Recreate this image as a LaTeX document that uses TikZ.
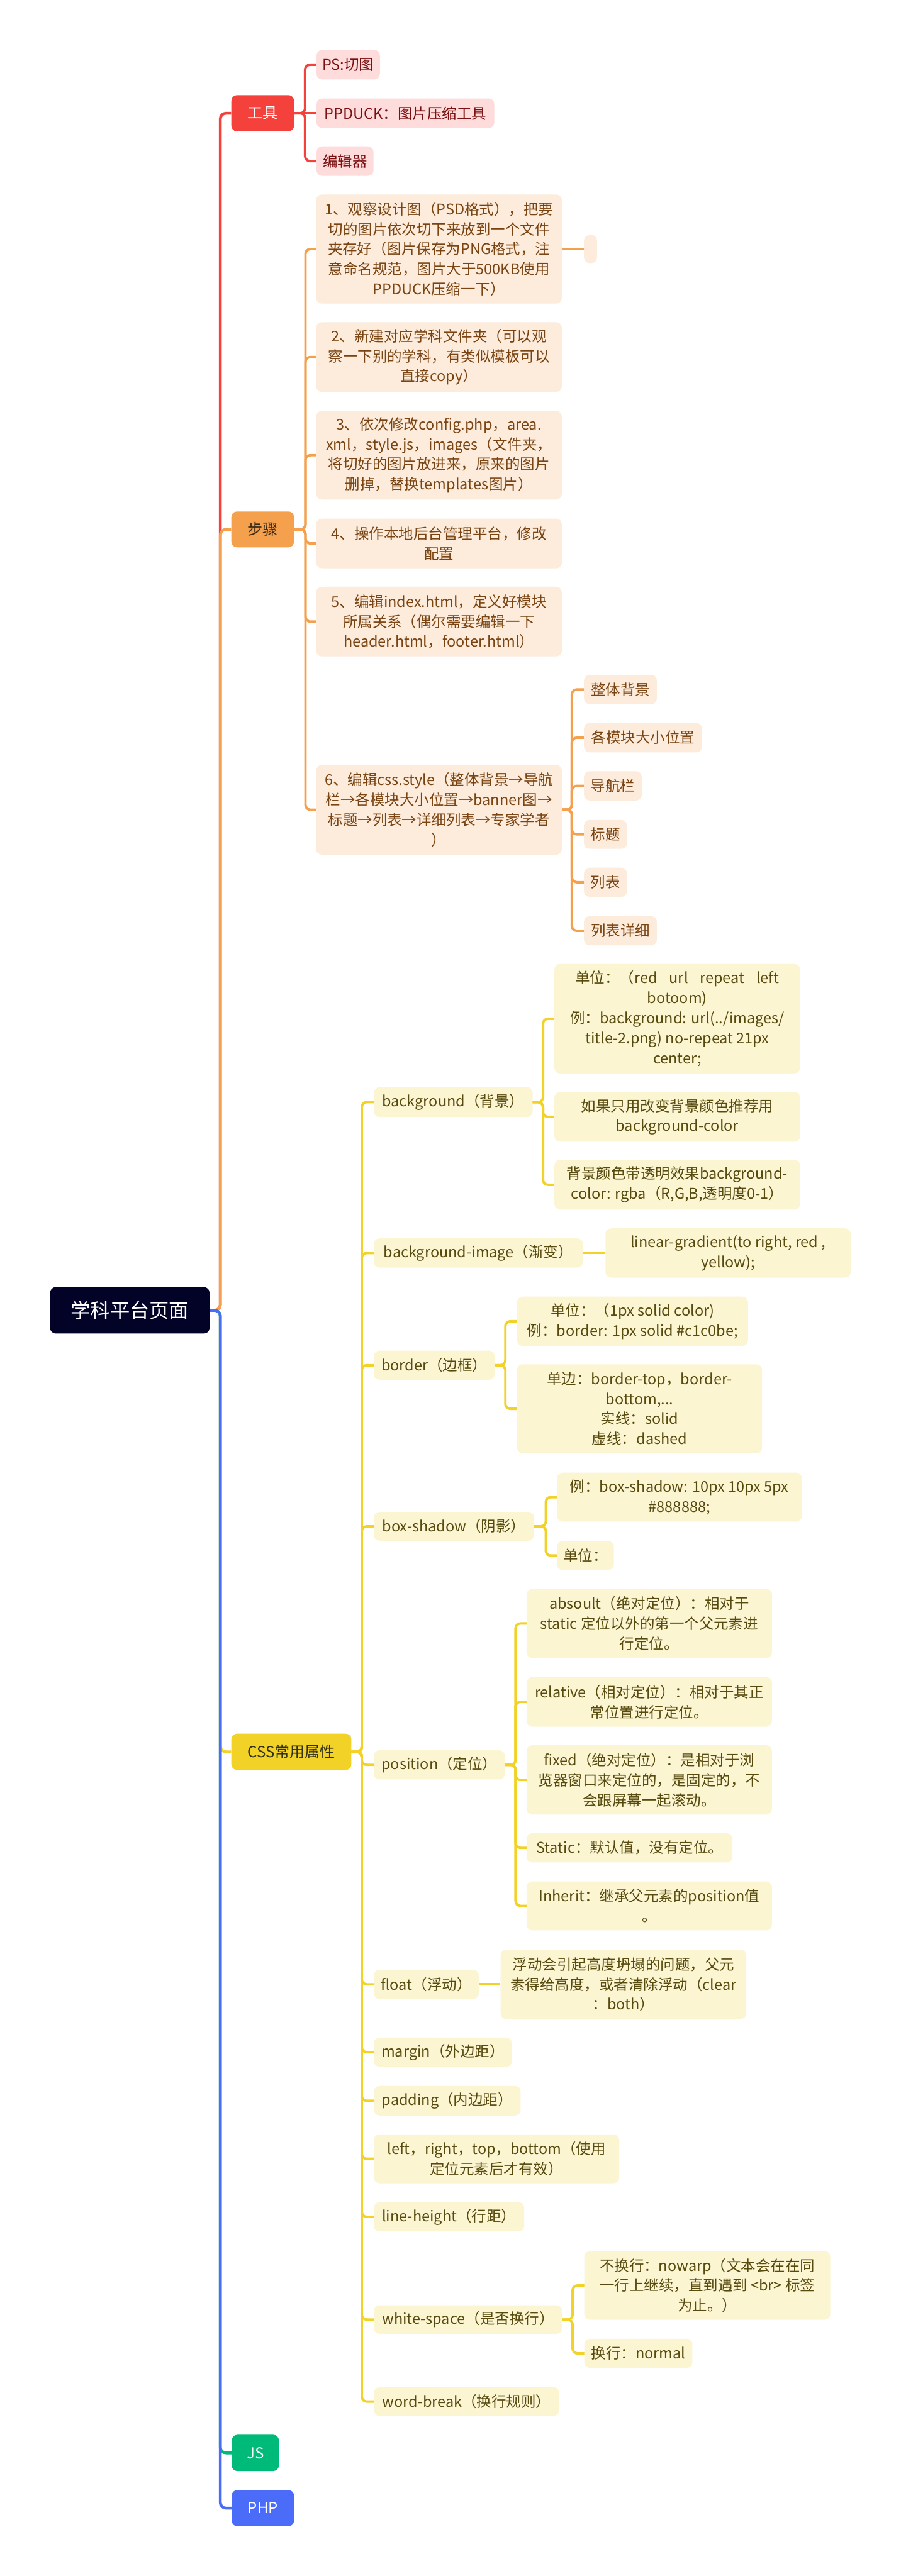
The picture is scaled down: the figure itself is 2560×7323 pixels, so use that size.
\documentclass[tikz,border=0pt]{standalone}
\usepackage{fontspec}
\setmainfont{Noto Sans CJK SC}
\definecolor{rootc}{HTML}{020327}
\definecolor{redc}{HTML}{F5413B}
\definecolor{redbg}{HTML}{FDDCDB}
\definecolor{redtx}{HTML}{7C0F0F}
\definecolor{orc}{HTML}{F5A04C}
\definecolor{orbg}{HTML}{FDECDC}
\definecolor{ortx}{HTML}{7A4412}
\definecolor{ordk}{HTML}{3A2A14}
\definecolor{yec}{HTML}{F2D227}
\definecolor{yebg}{HTML}{FCF5D2}
\definecolor{yetx}{HTML}{574A0E}
\definecolor{yedk}{HTML}{33301A}
\definecolor{grc}{HTML}{00BA79}
\definecolor{blc}{HTML}{4A6CF8}
\newcommand\link[4]{\draw[#1] (#2.east) -- (#2.east -| #4) -- (#3.west -| #4) -- (#3.west);}
\begin{document}
\begin{tikzpicture}[x=0.5pt,y=-0.5pt,
  bw/.style={minimum width=#1*0.5pt},
  bh/.style={minimum height=#1*0.5pt},
  box/.style={rounded corners=8pt, inner sep=0pt, anchor=west, align=center,
    font=\fontsize{21pt}{28.5pt}\selectfont},
  rootbox/.style={box, fill=rootc, text=white, font=\fontsize{28pt}{34pt}\selectfont},
  lone/.style={box, font=\fontsize{21.5pt}{28pt}\selectfont},
  l1red/.style={lone, fill=redc, text=white},
  l1or/.style={lone, fill=orc, text=ordk},
  l1ye/.style={lone, fill=yec, text=yedk},
  l1gr/.style={lone, fill=grc, text=white},
  l1bl/.style={lone, fill=blc, text=white},
  sred/.style={box, fill=redbg, text=redtx},
  sor/.style={box, fill=orbg, text=ortx},
  sye/.style={box, fill=yebg, text=yetx},
  trunk/.style={line width=4pt, rounded corners=8pt},
  cred/.style={line width=3.5pt, rounded corners=7pt, draw=redc},
  cor/.style={line width=3.5pt, rounded corners=7pt, draw=orc},
  cye/.style={line width=3.5pt, rounded corners=7pt, draw=yec},
]
\fill[white] (0,0) rectangle (2560,7323);
\useasboundingbox (0,0) rectangle (2560,7323);

% vertical line x positions
\coordinate (vr) at (626,0);
\coordinate (vt) at (867,0);
\coordinate (vs) at (868,0);
\coordinate (vs6) at (1625,0);
\coordinate (vc) at (1028,0);
\coordinate (vbg) at (1543,0);
\coordinate (vbd) at (1436,0);
\coordinate (vbs) at (1551,0);
\coordinate (vpo) at (1465,0);
\coordinate (vws) at (1627,0);

% root and first level
\node[rootbox, bw=453, bh=132] (root) at (142,3725) {学科平台页面};
\node[l1red, bw=178, bh=103] (tools) at (657,322) {工具};
\node[l1or, bw=178, bh=102] (steps) at (657,1505) {步骤};
\node[l1ye, bw=341, bh=103] (css) at (657,4980) {CSS常用属性};
\node[l1gr, bw=134, bh=103] (js) at (658,6973) {JS};
\node[l1bl, bw=177, bh=103] (php) at (658,7130) {PHP};

% tools
\node[sred, bw=180, bh=84] (ps) at (899,184) {PS:切图};
\node[sred, bw=505, bh=84] (ppduck) at (899,322) {PPDUCK：图片压缩工具};
\node[sred, bw=162, bh=84] (editor) at (899,458) {编辑器};

% steps
\node[sor, bw=698, bh=310] (s1) at (898,708) {1、观察设计图（PSD格式），把要\\切的图片依次切下来放到一个文件\\夹存好（图片保存为PNG格式，注\\意命名规范，图片大于500KB使用\\PPDUCK压缩一下）};
\node[sor, bw=37, bh=80] (s1x) at (1659,708) {};
\node[sor, bw=698, bh=198] (s2) at (898,1015) {2、新建对应学科文件夹（可以观\\察一下别的学科，有类似模板可以\\直接copy）};
\node[sor, bw=698, bh=252] (s3) at (898,1294) {3、依次修改config.php，area.\\xml，style.js，images（文件夹，\\将切好的图片放进来，原来的图片\\删掉，替换templates图片）};
\node[sor, bw=698, bh=141] (s4) at (898,1545) {4、操作本地后台管理平台，修改\\配置};
\node[sor, bw=698, bh=198] (s5) at (898,1767) {5、编辑index.html，定义好模块\\所属关系（偶尔需要编辑一下\\header.html，footer.html）};
\node[sor, bw=698, bh=255] (s6) at (898,2302) {6、编辑css.style（整体背景→导航\\栏→各模块大小位置→banner图→\\标题→列表→详细列表→专家学者\\）};
\node[sor, bw=207, bh=83] (t1) at (1659,1960) {整体背景};
\node[sor, bw=335, bh=84] (t2) at (1659,2097) {各模块大小位置};
\node[sor, bw=164, bh=83] (t3) at (1659,2234) {导航栏};
\node[sor, bw=122, bh=82] (t4) at (1659,2372) {标题};
\node[sor, bw=122, bh=83] (t5) at (1659,2508) {列表};
\node[sor, bw=207, bh=83] (t6) at (1659,2646) {列表详细};

% css level 2
\node[sye, bw=451, bh=85] (bg) at (1062,3133) {background（背景）};
\node[sye, bw=594, bh=83] (bgi) at (1062,3562) {background-image（渐变）};
\node[sye, bw=343, bh=83] (bd) at (1062,3881) {border（边框）};
\node[sye, bw=455, bh=82] (bs) at (1062,4339) {box-shadow（阴影）};
\node[sye, bw=372, bh=83] (po) at (1062,5017) {position（定位）};
\node[sye, bw=298, bh=83] (fl) at (1062,5641) {float（浮动）};
\node[sye, bw=392, bh=83] (ma) at (1062,5834) {margin（外边距）};
\node[sye, bw=417, bh=84] (pa) at (1062,5972) {padding（内边距）};
\node[sye, bw=697, bh=139] (lr) at (1062,6137) {left，right，top，bottom（使用\\定位元素后才有效）};
\node[sye, bw=427, bh=83] (lh) at (1062,6302) {line-height（行距）};
\node[sye, bw=535, bh=81] (ws) at (1062,6594) {white-space（是否换行）};
\node[sye, bw=526, bh=82] (wb) at (1062,6827) {word-break（换行规则）};

% css level 3
\node[sye, bw=698, bh=311] (bg1) at (1575,2896) {单位：（red\hspace{0.8em}url\hspace{0.8em}repeat\hspace{0.8em}left\\botoom)\\例：background: url(../images/\\title-2.png) no-repeat 21px\\center;};
\node[sye, bw=698, bh=141] (bg2) at (1575,3175) {如果只用改变背景颜色推荐用\\background-color};
\node[sye, bw=698, bh=141] (bg3) at (1575,3368) {背景颜色带透明效果background-\\color: rgba（R,G,B,透明度0-1）};
\node[sye, bw=697, bh=140] (bgi1) at (1720,3562) {linear-gradient(to right, red ,\\yellow);};
\node[sye, bw=656, bh=140] (bd1) at (1469,3756) {单位：（1px solid color)\\例：border: 1px solid \#c1c0be;};
\node[sye, bw=696, bh=253] (bd2) at (1469,4005) {单边：border-top，border-\\bottom,...\\实线：solid\\虚线：dashed};
\node[sye, bw=696, bh=139] (bs1) at (1582,4256) {例：box-shadow: 10px 10px 5px\\\#888888;};
\node[sye, bw=162, bh=82] (bs2) at (1582,4422) {单位：};
\node[sye, bw=697, bh=197] (p1) at (1496,4615) {absoult（绝对定位）：相对于\\static 定位以外的第一个父元素进\\行定位。};
\node[sye, bw=697, bh=141] (p2) at (1496,4838) {relative（相对定位）：相对于其正\\常位置进行定位。};
\node[sye, bw=697, bh=197] (p3) at (1496,5060) {fixed（绝对定位）：是相对于浏\\览器窗口来定位的，是固定的，不\\会跟屏幕一起滚动。};
\node[sye, bw=585, bh=83] (p4) at (1496,5253) {Static：默认值，没有定位。};
\node[sye, bw=697, bh=139] (p5) at (1496,5418) {Inherit：继承父元素的position值\\。};
\node[sye, bw=698, bh=197] (fl1) at (1422,5641) {浮动会引起高度坍塌的问题，父元\\素得给高度，或者清除浮动（clear\\：both）};
\node[sye, bw=699, bh=195] (ws1) at (1660,6497) {不换行：nowarp（文本会在在同\\一行上继续，直到遇到 <br> 标签\\为止。）};
\node[sye, bw=307, bh=83] (ws2) at (1660,6690) {换行：normal};

% trunk connectors
\link{trunk, draw=redc}{root}{tools}{vr}
\link{trunk, draw=orc}{root}{steps}{vr}
\link{trunk, draw=yec}{root}{css}{vr}
\link{trunk, draw=grc}{root}{js}{vr}
\link{trunk, draw=blc}{root}{php}{vr}

% tools connectors
\link{cred}{tools}{ps}{vt}
\draw[cred] (tools.east) -- (ppduck.west);
\link{cred}{tools}{editor}{vt}

% steps connectors
\foreach \c in {s1,s2,s3,s4,s5,s6} {\link{cor}{steps}{\c}{vs}}
\draw[cor] (s1.east) -- (s1x.west);
\foreach \c in {t1,t2,t3,t4,t5,t6} {\link{cor}{s6}{\c}{vs6}}

% css connectors
\foreach \c in {bg,bgi,bd,bs,po,fl,ma,pa,lr,lh,ws,wb} {\link{cye}{css}{\c}{vc}}
\foreach \c in {bg1,bg2,bg3} {\link{cye}{bg}{\c}{vbg}}
\draw[cye] (bgi.east) -- (bgi1.west);
\foreach \c in {bd1,bd2} {\link{cye}{bd}{\c}{vbd}}
\foreach \c in {bs1,bs2} {\link{cye}{bs}{\c}{vbs}}
\foreach \c in {p1,p2,p3,p4,p5} {\link{cye}{po}{\c}{vpo}}
\draw[cye] (fl.east) -- (fl1.west);
\foreach \c in {ws1,ws2} {\link{cye}{ws}{\c}{vws}}
\end{tikzpicture}
\end{document}
